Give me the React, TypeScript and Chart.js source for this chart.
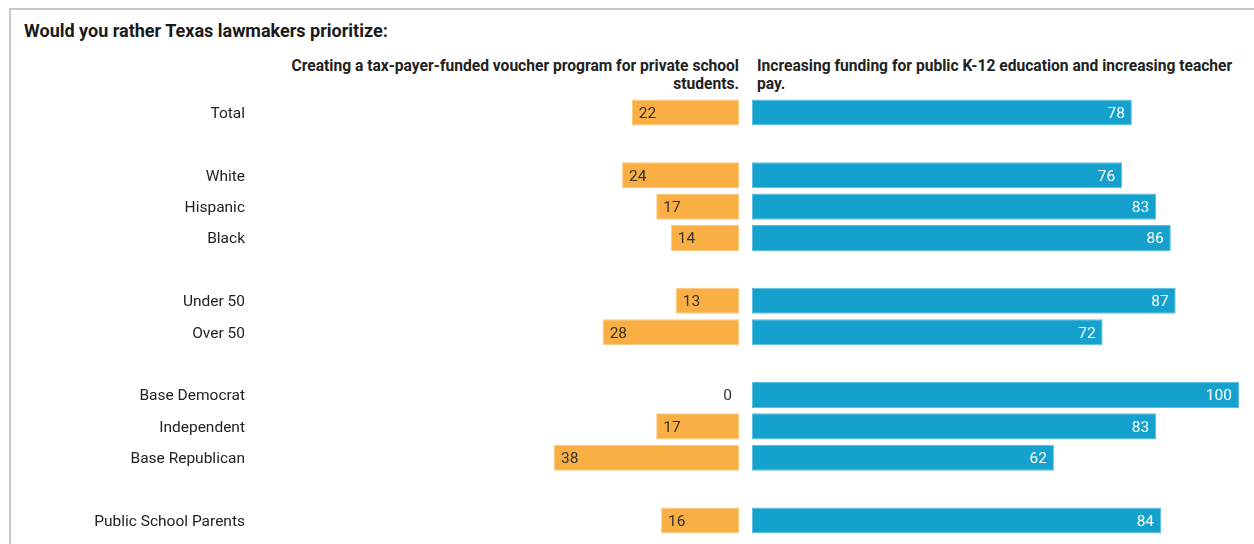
import React, { useEffect, useRef } from "react";
import { Chart, registerables } from "chart.js";

Chart.register(...registerables);

const titleText = "Would you rather Texas lawmakers prioritize:";
const leftHeaderLines = [
  "Creating a tax-payer-funded voucher program for private school",
  "students.",
];
const rightHeaderLines = [
  "Increasing funding for public K-12 education and increasing teacher",
  "pay.",
];

const categories = [
  "Total",
  "",
  "White",
  "Hispanic",
  "Black",
  "",
  "Under 50",
  "Over 50",
  "",
  "Base Democrat",
  "Independent",
  "Base Republican",
  "",
  "Public School Parents",
];
const voucherValues: (number | null)[] = [22, null, 24, 17, 14, null, 13, 28, null, 0, 17, 38, null, 16];
const publicValues: (number | null)[] = [78, null, 76, 83, 86, null, 87, 72, null, 100, 83, 62, null, 84];
const axisMax = 100;

const FONT = "Roboto, 'Noto Sans', sans-serif";
const ORANGE = "#f9af43";
const ORANGE_EDGE = "#fcc87b";
const BLUE = "#14a1ce";
const BLUE_EDGE = "#5cbfdf";
const LABEL_SIZE = 15.5;

const valueLabels = {
  id: "valueLabels",
  afterDatasetsDraw(chart: any, _args: any, opts: any) {
    const ctx = chart.ctx;
    const meta = chart.getDatasetMeta(0);
    const data = chart.data.datasets[0].data;
    const yScale = chart.scales.y;
    ctx.save();
    ctx.font = `${LABEL_SIZE}px ${FONT}`;
    ctx.textBaseline = "middle";
    if (opts.side === "left") {
      // category labels, placed through the category scale
      ctx.fillStyle = "#222222";
      ctx.textAlign = "right";
      const labels = chart.data.labels as string[];
      labels.forEach((lab: string, i: number) => {
        if (!lab) return;
        ctx.fillText(lab, chart.chartArea.left - 7, yScale.getPixelForValue(i) + 1.5);
      });
    }
    meta.data.forEach((bar: any, i: number) => {
      const v = data[i];
      if (v === null || v === undefined) return;
      const { x, y, base } = bar.getProps(["x", "y", "base"], true);
      const ty = y + 1.5;
      if (opts.side === "left") {
        ctx.fillStyle = "#333333";
        if (v > 0) {
          ctx.textAlign = "left";
          ctx.fillText(String(v), x + 7, ty);
        } else {
          ctx.textAlign = "right";
          ctx.fillText(String(v), base - 7, ty);
        }
      } else {
        ctx.fillStyle = "#ffffff";
        ctx.textAlign = "right";
        ctx.fillText(String(v), x - 7, ty);
      }
    });
    ctx.restore();
  },
};

const CANVAS_TOP = 90;
const CANVAS_H = 454;

function makeConfig(side: "left" | "right"): any {
  const isLeft = side === "left";
  return {
    type: "bar",
    data: {
      labels: categories,
      datasets: [
        {
          data: isLeft ? voucherValues : publicValues,
          backgroundColor: isLeft ? ORANGE : BLUE,
          borderColor: isLeft ? ORANGE_EDGE : BLUE_EDGE,
          borderWidth: 1,
          borderSkipped: false,
          barPercentage: 0.83,
          categoryPercentage: 1,
        },
      ],
    },
    options: {
      indexAxis: "y",
      responsive: false,
      maintainAspectRatio: false,
      animation: false,
      layout: {
        padding: isLeft
          ? { top: 6.8, bottom: 7.8, left: 232, right: 6 }
          : { top: 6.8, bottom: 7.8, left: 6, right: 15 },
      },
      plugins: {
        legend: { display: false },
        tooltip: { enabled: false },
        title: { display: false },
        valueLabels: { side },
      },
      scales: {
        x: { display: false, min: 0, max: axisMax, reverse: isLeft },
        y: { display: false },
      },
    },
    plugins: [valueLabels],
  };
}

function BarCanvas({ side, left, width }: { side: "left" | "right"; left: number; width: number }) {
  const ref = useRef<HTMLCanvasElement | null>(null);
  useEffect(() => {
    if (!ref.current) return;
    const chart = new Chart(ref.current, makeConfig(side));
    return () => chart.destroy();
  }, [side]);
  return (
    <canvas
      ref={ref}
      width={width}
      height={CANVAS_H}
      style={{ position: "absolute", left, top: CANVAS_TOP, width, height: CANVAS_H }}
    />
  );
}

export default function App() {
  useEffect(() => {
    document.documentElement.style.overflow = "hidden";
    document.body.style.overflow = "hidden";
  }, []);
  const headerStyle: React.CSSProperties = {
    position: "absolute",
    top: 57,
    fontFamily: FONT,
    fontWeight: 700,
    fontSize: 15.6,
    lineHeight: "18px",
    color: "#222222",
    whiteSpace: "nowrap",
  };
  return (
    <div
      style={{
        position: "fixed",
        left: 0,
        top: 0,
        width: 1254,
        height: 544,
        overflow: "hidden",
        background: "#ffffff",
      }}
    >
      <div
        style={{
          position: "absolute",
          left: 9,
          top: 8,
          width: 2000,
          height: 2000,
          border: "2px solid #c8c8c8",
        }}
      />
      <div
        style={{
          position: "absolute",
          left: 24,
          top: 20,
          fontFamily: FONT,
          fontWeight: 700,
          fontSize: 18,
          lineHeight: "22px",
          color: "#1a1a1a",
          whiteSpace: "nowrap",
        }}
      >
        {titleText}
      </div>
      <div style={{ ...headerStyle, right: 1254 - 739, textAlign: "right" }}>
        {leftHeaderLines[0]}
        <br />
        {leftHeaderLines[1]}
      </div>
      <div style={{ ...headerStyle, left: 757, textAlign: "left" }}>
        {rightHeaderLines[0]}
        <br />
        {rightHeaderLines[1]}
      </div>
      <BarCanvas side="left" left={20} width={725} />
      <BarCanvas side="right" left={746} width={508} />
    </div>
  );
}
